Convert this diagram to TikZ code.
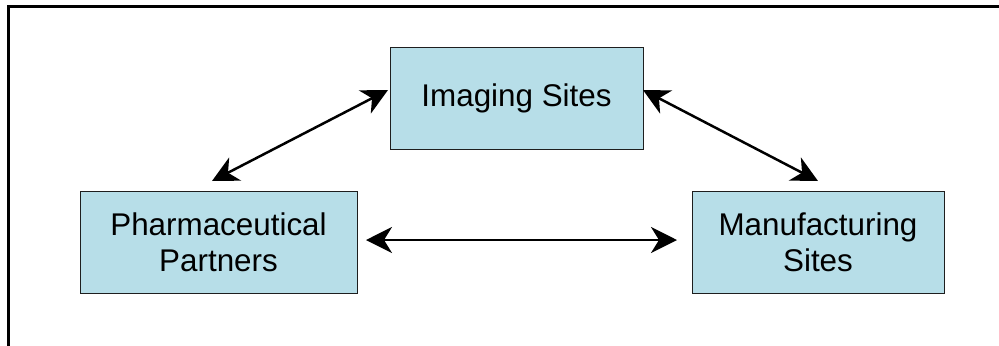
\documentclass[tikz,border=0pt]{standalone}
\usepackage{fontspec}
\setmainfont{Liberation Sans}
\usetikzlibrary{arrows.meta}
\definecolor{boxfill}{RGB}{183,222,232}
\definecolor{boxline}{RGB}{30,30,30}
\tikzset{
  site/.style={draw=boxline, line width=1pt, fill=boxfill, inner sep=0pt,
    align=center, font=\fontsize{31.5}{36}\selectfont},
  link/.style={line width=2.5pt, {Stealth[length=26bp,width=26bp,inset=8bp]}-{Stealth[length=26bp,width=26bp,inset=8bp]}}
}
\begin{document}
\begin{tikzpicture}[x=1bp,y=-1bp]
\useasboundingbox (0,0) rectangle (999,345);
\draw[line width=2.2pt] (8.5,360) -- (8.5,6.5) -- (1010,6.5);
\node[site, minimum width=253bp, minimum height=102bp] (img) at (516.5,98) {Imaging Sites};
\node[site, minimum width=277bp, minimum height=102bp] (pharm) at (218.5,242) {Pharmaceutical\\Partners};
\node[site, minimum width=252bp, minimum height=102bp] (manu) at (818,242) {Manufacturing\\Sites};
\coordinate (l1) at (212,181);
\coordinate (l2) at (388,90);
\coordinate (r1) at (643,90);
\coordinate (r2) at (818,181);
\coordinate (h1) at (366,240);
\coordinate (h2) at (677,240);
\draw[link] (l1) -- (l2);
\draw[link] (r1) -- (r2);
\draw[link] (h1) -- (h2);
\end{tikzpicture}
\end{document}
